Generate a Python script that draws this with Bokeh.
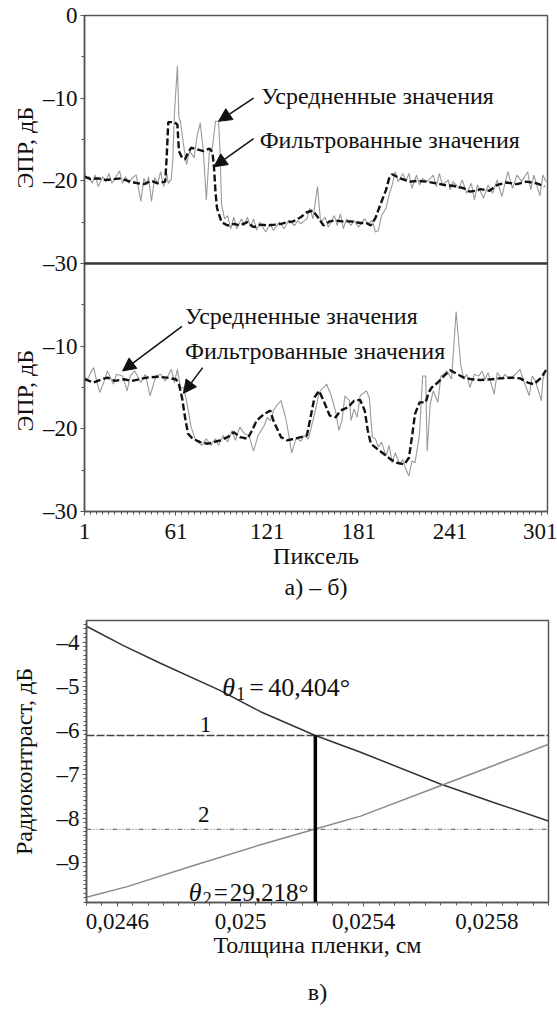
import math
from bokeh.plotting import figure
from bokeh.layouts import column, row
from bokeh.models import (Range1d, FixedTicker, Span, Label, Arrow, NormalHead, Title)
from bokeh.core.properties import value
from bokeh.embed import file_html
from bokeh.resources import INLINE

FONT = "Liberation Serif"

# ---------------- panel а) : pixel index vs ЭПР (dB) ----------------
a_avg_x = [1,2,4,6,8,10,13,15,17,19,21,24,26,28,30,32,35,38,40,42,43,45,47,49,51,53,55,56,58,59,60,62,63,64,66,68,70,73,75,77,79,81,83,85,87,89,90,91,93,95,97,99,101,104,106,108,110,112,114,116,120,123,125,129,132,135,139,141,143,147,149,151,154,156,159,161,165,167,169,171,173,176,178,181,185,187,190,192,194,196,199,201,203,205,207,210,212,214,216,219,221,223,226,230,232,234,236,240,241,243,247,249,252,255,257,259,263,266,269,272,275,279,282,285,288,292,294,296,300,302,304]
a_avg_y = [-18.9,-19.7,-19.5,-20.3,-19.3,-20.7,-19.5,-20.1,-19.1,-20.3,-19.7,-18.8,-20.3,-19.5,-20.3,-19.7,-19.3,-22.5,-19.7,-20.5,-19.5,-22.5,-19.6,-20.3,-18.9,-20.7,-19.1,-20.3,-19.8,-17.4,-12.0,-6.1,-12.4,-12.8,-15.6,-18.0,-16.4,-17.2,-14.5,-13.0,-16.4,-22.3,-16.4,-16.0,-12.8,-12.8,-16.4,-22.9,-24.6,-24.2,-25.8,-24.4,-25.8,-24.6,-25.4,-24.4,-25.6,-24.6,-26.0,-25.0,-26.2,-25.2,-26.0,-25.0,-25.8,-24.8,-25.4,-24.8,-25.2,-24.6,-23.3,-24.6,-20.7,-25.0,-24.4,-25.6,-24.2,-25.4,-24.0,-25.8,-24.6,-25.4,-24.8,-25.6,-24.6,-25.2,-24.8,-26.2,-26.0,-24.2,-23.3,-21.7,-20.5,-18.9,-20.1,-19.1,-20.1,-19.1,-20.9,-19.3,-20.5,-19.7,-20.1,-19.3,-20.7,-19.1,-20.5,-19.9,-21.1,-20.1,-20.9,-19.9,-21.5,-20.3,-22.3,-20.5,-22.1,-20.5,-21.5,-19.9,-21.9,-18.9,-20.9,-19.3,-20.1,-18.9,-21.1,-19.3,-21.8,-19.3,-20.1]

a_flt_x = [1,5,10,15,20,25,31,36,40,45,49,54,55,56,60,62,63,65,67,69,71,75,79,83,85,86,87,88,91,95,99,103,108,112,117,121,126,130,134,138,143,147,151,155,158,162,166,170,176,182,186,189,192,195,199,201,203,208,215,220,226,232,237,243,250,254,258,261,267,272,278,285,291,298,303]
a_flt_y = [-19.5,-19.8,-19.7,-19.9,-19.8,-19.7,-20.1,-20.3,-20.4,-20.0,-20.3,-20.1,-17.0,-12.9,-12.9,-13.2,-16.4,-17.2,-17.4,-16.6,-16.0,-16.2,-16.4,-16.1,-16.5,-18.3,-21.3,-23.3,-25.0,-25.4,-25.2,-25.4,-25.0,-25.6,-25.3,-25.4,-25.3,-25.2,-25.0,-24.9,-24.4,-23.8,-23.6,-24.6,-25.4,-24.9,-24.8,-24.9,-24.9,-25.1,-25.1,-25.4,-24.5,-23.0,-21.1,-19.7,-19.2,-19.7,-20.1,-20.0,-20.1,-20.3,-20.5,-20.6,-20.9,-21.3,-21.2,-21.0,-21.2,-20.5,-20.2,-20.4,-20.1,-20.3,-20.7]

# ---------------- panel б) ----------------
b_avg_x = [1,3,5,7,9,11,14,16,20,22,26,29,31,34,38,41,44,48,51,54,58,60,62,64,66,68,71,74,78,81,84,87,89,92,95,98,100,103,106,109,112,115,119,121,123,125,128,130,133,135,137,140,143,145,148,151,153,155,158,160,163,166,168,170,172,175,176,178,180,182,186,188,190,192,194,196,199,201,203,205,208,210,212,214,216,218,221,222,223,225,226,228,230,233,235,237,239,242,245,248,250,252,254,257,260,262,264,266,270,272,275,277,280,284,287,289,293,295,297,301,302,304]
b_avg_y = [-13.8,-14.0,-13.2,-12.6,-14.2,-15.6,-14.2,-13.0,-14.6,-13.4,-13.6,-15.4,-13.6,-13.0,-14.4,-13.4,-16.0,-13.6,-13.4,-14.2,-12.8,-14.4,-12.8,-15.0,-15.0,-16.6,-19.8,-21.4,-22.0,-21.2,-22.0,-21.2,-22.0,-20.8,-21.6,-20.2,-21.4,-19.8,-20.6,-20.8,-22.7,-20.8,-19.6,-18.6,-19.0,-17.8,-17.0,-16.6,-18.6,-20.6,-22.9,-21.1,-21.5,-20.8,-21.2,-19.0,-17.4,-15.6,-15.0,-14.6,-16.0,-18.0,-20.2,-19.0,-16.0,-16.6,-19.0,-17.6,-18.6,-16.0,-15.4,-16.2,-21.0,-21.2,-22.2,-21.6,-23.3,-22.0,-24.1,-22.9,-24.3,-23.7,-24.9,-25.7,-23.9,-24.1,-20.6,-17.0,-13.6,-13.6,-22.7,-17.0,-15.4,-16.8,-13.6,-13.4,-13.0,-14.0,-5.8,-12.2,-14.0,-13.4,-15.0,-13.4,-13.6,-13.0,-14.0,-13.2,-15.8,-13.2,-14.0,-13.4,-14.0,-13.4,-12.8,-14.0,-16.0,-13.6,-14.2,-16.6,-14.0,-12.8]

b_flt_x = [1,7,11,16,21,27,32,37,42,49,55,61,63,65,67,69,72,77,82,86,90,95,99,103,108,111,114,119,123,125,130,134,141,147,149,152,155,158,162,166,169,174,178,182,185,187,189,193,198,202,206,211,214,216,218,221,225,227,229,233,237,241,246,250,255,261,268,274,281,287,292,296,301,304]
b_flt_y = [-14.0,-14.4,-14.1,-13.8,-14.2,-14.0,-14.2,-14.0,-13.8,-13.7,-13.8,-14.0,-14.6,-16.2,-18.6,-20.6,-21.2,-21.6,-21.8,-21.6,-21.4,-21.0,-20.4,-21.0,-21.2,-20.2,-19.0,-18.2,-17.8,-19.0,-21.0,-21.4,-21.1,-20.8,-19.0,-16.2,-15.4,-16.6,-18.4,-18.6,-17.8,-17.4,-16.6,-16.5,-17.8,-20.2,-21.8,-22.4,-23.1,-23.7,-24.1,-24.3,-23.5,-21.0,-18.2,-16.8,-16.8,-15.6,-15.0,-14.4,-13.6,-12.9,-13.4,-13.8,-14.0,-14.1,-14.0,-13.9,-13.8,-13.9,-14.4,-14.6,-13.8,-12.9]

ab_x_ticks = [1, 61, 121, 181, 241, 301]
ab_y_ticks = [0, -10, -20, -30, -40, -50, -60]
ab_y_tick_labels = ["0", "\u201310", "\u201320", "\u201330", "\u201310", "\u201320", "\u201330"]
ab_y_title = "ЭПР, дБ"

# ---------------- panel в) ----------------
c_x1 = [0.0245, 0.02462, 0.02474, 0.024935, 0.025065, 0.025243, 0.02539, 0.025649, 0.025822, 0.026]
c_y1 = [-3.64, -4.08, -4.48, -5.10, -5.58, -6.12, -6.50, -7.22, -7.64, -8.06]
c_x2 = [0.0245, 0.024632, 0.024848, 0.025065, 0.025243, 0.02539, 0.025649, 0.025822, 0.026]
c_y2 = [-9.79, -9.55, -9.07, -8.60, -8.24, -7.95, -7.26, -6.80, -6.32]
c_level1 = -6.12
c_level2 = -8.25
c_thickness = 0.025243
c_x_ticks = [0.0246, 0.025, 0.0254, 0.0258]
c_x_tick_labels = ["0,0246", "0,025", "0,0254", "0,0258"]
c_y_ticks = [-4, -5, -6, -7, -8, -9]
c_y_tick_labels = ["\u20134", "\u20135", "\u20136", "\u20137", "\u20138", "\u20139"]
c_theta1 = "40,404°"
c_theta2 = "29,218°"

TICK_PX = "23px"
LBL_PX = "24px"


def style_axis(ax):
    ax.major_label_text_font = FONT
    ax.major_label_text_font_size = TICK_PX
    ax.major_label_text_color = "#111111"
    ax.axis_label_text_font = FONT
    ax.axis_label_text_font_size = LBL_PX
    ax.axis_label_text_font_style = "normal"
    ax.axis_label_text_color = "#111111"
    ax.axis_line_color = "#555555"
    ax.axis_line_width = 1.5
    ax.major_tick_line_color = "#555555"
    ax.minor_tick_line_color = "#555555"
    ax.major_tick_in = 0
    ax.major_tick_out = 4
    ax.minor_tick_in = 0
    ax.minor_tick_out = 3


A_TOP, A_FRAME_H, A_BOTTOM = 15, 496, 95
LBL_W = 39

# ================= figure а)–б) =================
pa = figure(frame_width=463, frame_height=A_FRAME_H, x_range=Range1d(1, 305), y_range=Range1d(-60, 0),
            output_backend="svg", toolbar_location=None,
            min_border_left=84 - LBL_W, min_border_right=10, min_border_top=A_TOP,
            min_border_bottom=A_BOTTOM)
bot_range = Range1d(-30, 30)
pa.extra_y_ranges = {"bot": bot_range}
pa.xgrid.visible = False
pa.ygrid.visible = False
pa.outline_line_color = "#555555"
pa.outline_line_width = 1.5
pa.background_fill_color = "white"
pa.border_fill_color = "white"

pa.xaxis.ticker = FixedTicker(ticks=ab_x_ticks, minor_ticks=list(range(1, 306, 4)))
pa.yaxis.ticker = FixedTicker(ticks=ab_y_ticks, minor_ticks=[-5, -15, -25, -35, -45, -55])
pa.yaxis.major_label_overrides = dict(zip(ab_y_ticks, ab_y_tick_labels))
pa.xaxis.axis_label = "Пиксель"
for ax in list(pa.xaxis) + list(pa.yaxis):
    style_axis(ax)
pa.xaxis.major_label_standoff = 8
pa.yaxis.major_label_standoff = 3
pa.xaxis.axis_label_standoff = 1

# separator between the two panels
pa.add_layout(Span(location=-30, dimension="width", line_color="#333333", line_width=2.5))

# panel а)
pa.line(a_avg_x, a_avg_y, line_color="#9a9a9a", line_width=1.1)
pa.line(a_flt_x, a_flt_y, line_color="#111111", line_width=2.4, line_dash="7 3")
# panel б)
pa.line(b_avg_x, b_avg_y, line_color="#9a9a9a", line_width=1.1, y_range_name="bot")
pa.line(b_flt_x, b_flt_y, line_color="#111111", line_width=2.4, line_dash="7 3", y_range_name="bot")


def note(x, y, txt, yr="default"):
    pa.add_layout(Label(x=x, y=y, text=txt, y_range_name=yr, text_align="left",
                        text_baseline="middle", text_font=FONT, text_font_size=LBL_PX,
                        text_color="#111111"))


def arrow(x0, y0, x1, y1, yr="default"):
    pa.add_layout(Arrow(x_start=x0, y_start=y0, x_end=x1, y_end=y1, y_range_name=yr,
                        line_color="#111111", line_width=1.5,
                        end=NormalHead(size=13, fill_color="#111111", line_color="#111111")))


note(117, -9.75, "Усредненные значения")
note(116, -15.0, "Фильтрованные значения")
arrow(112, -10.0, 89, -12.8)
arrow(112, -14.9, 86, -18.3)

note(67, -6.3, "Усредненные значения", "bot")
note(67, -10.6, "Фильтрованные значения", "bot")
arrow(65, -7.6, 26, -13.0, "bot")
arrow(78.6, -12.6, 66, -15.7, "bot")

pa.add_layout(Title(text="а) \u2013 б)", align="center", text_font=FONT, text_font_size=LBL_PX,
                    text_font_style="normal", text_color="#111111", standoff=1), "below")

# narrow strip on the left carrying the two vertical axis titles
pl = figure(width=LBL_W, height=A_TOP + A_FRAME_H + A_BOTTOM, x_range=Range1d(0, LBL_W),
            y_range=pa.y_range, output_backend="svg", toolbar_location=None,
            min_border_left=0, min_border_right=0, min_border_top=A_TOP, min_border_bottom=A_BOTTOM)
pl.extra_y_ranges = {"bot": bot_range}
pl.axis.visible = False
pl.grid.visible = False
pl.outline_line_color = None
pl.border_fill_color = "white"
pl.text(x=[24], y=[-16], text=[ab_y_title], angle=math.pi / 2, text_align="center",
        text_baseline="middle", text_font=value(FONT), text_font_size=LBL_PX, text_color="#111111")
pl.text(x=[24], y=[-15.4], text=[ab_y_title], angle=math.pi / 2, text_align="center",
        text_baseline="middle", text_font=value(FONT), text_font_size=LBL_PX, text_color="#111111",
        y_range_name="bot")

# ================= figure в) =================
pb = figure(frame_width=462, frame_height=282, x_range=Range1d(0.0245, 0.026),
            y_range=Range1d(-9.91, -3.51),
            output_backend="svg", toolbar_location=None,
            min_border_left=86, min_border_right=9, min_border_top=14, min_border_bottom=106)
pb.xgrid.visible = False
pb.ygrid.visible = False
pb.outline_line_color = "#555555"
pb.outline_line_width = 1.5
pb.background_fill_color = "white"
pb.border_fill_color = "white"
pb.xaxis.ticker = FixedTicker(ticks=c_x_ticks,
                              minor_ticks=[round(0.0245 + k * 0.00005, 6) for k in range(31)])
pb.xaxis.major_label_overrides = dict(zip(c_x_ticks, c_x_tick_labels))
pb.yaxis.ticker = FixedTicker(ticks=c_y_ticks,
                              minor_ticks=[round(-3.5 - k * 0.1, 2) for k in range(65)])
pb.yaxis.major_label_overrides = dict(zip(c_y_ticks, c_y_tick_labels))
pb.xaxis.axis_label = "Толщина пленки, см"
pb.yaxis.axis_label = "Радиоконтраст, дБ"
for ax in list(pb.xaxis) + list(pb.yaxis):
    style_axis(ax)
pb.xaxis.major_label_standoff = 7
pb.yaxis.major_label_standoff = 3
pb.xaxis.axis_label_standoff = 0
pb.yaxis.axis_label_standoff = 17

x_lo, x_hi = 0.0245, 0.026
pb.line([x_lo, x_hi], [c_level1, c_level1], line_color="#444444", line_width=1.3, line_dash="8 2")
pb.line([x_lo, x_hi], [c_level2, c_level2], line_color="#777777", line_width=1.3, line_dash="5 2 1 2 1 2")
pb.line(c_x1, c_y1, line_color="#333333", line_width=1.5)
pb.line(c_x2, c_y2, line_color="#8a8a8a", line_width=1.5)
pb.line([c_thickness, c_thickness], [-9.91, c_level1], line_color="#000000", line_width=3.5)


def lab(x, y, txt, size="24px", style="normal", xoff=0, yoff=0, base="alphabetic"):
    pb.add_layout(Label(x=x, y=y, text=txt, x_offset=xoff, y_offset=yoff, text_font=FONT,
                        text_font_size=size, text_font_style=style, text_color="#111111",
                        text_align="left", text_baseline=base))


lab(0.024941, -5.04, "θ", "26px", "italic")
lab(0.024941, -5.04, "1", "18px", "normal", xoff=14, yoff=-6)
lab(0.024941, -5.04, "=", "26px", "normal", xoff=27)
lab(0.024941, -5.04, c_theta1, "26px", "normal", xoff=46)
lab(0.024832, -9.68, "θ", "26px", "italic")
lab(0.024832, -9.68, "2", "18px", "normal", xoff=14, yoff=-6)
lab(0.024832, -9.68, "=", "25px", "normal", xoff=25)
lab(0.024832, -9.68, c_theta2, "25px", "normal", xoff=41)
lab(0.024868, -5.86, "1", "23px", base="middle")
lab(0.024862, -7.91, "2", "23px", base="middle")

pb.add_layout(Title(text="в)", align="center", text_font=FONT, text_font_size=LBL_PX,
                    text_font_style="normal", text_color="#111111", standoff=33), "below")

layout = column(row(pl, pa, spacing=0), pb, spacing=0)
open("out.html", "w").write(file_html(layout, INLINE))
